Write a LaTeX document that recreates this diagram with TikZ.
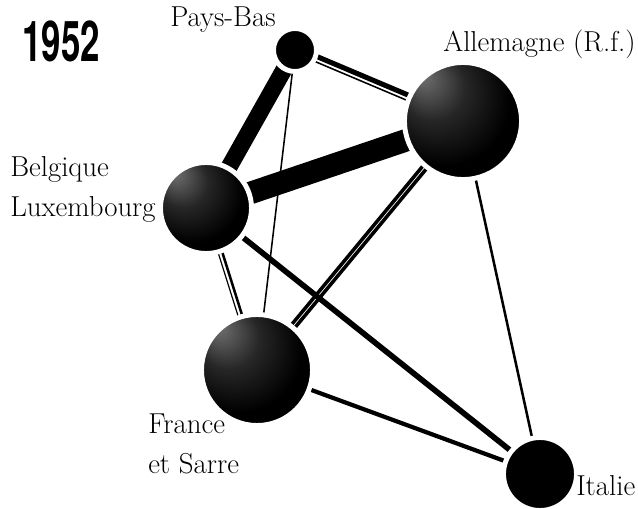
\documentclass[tikz,border=0pt]{standalone}
\usepackage{graphicx,fontspec}
\newfontfamily\yearfont{TeX Gyre Heros}
\usetikzlibrary{calc,backgrounds}
\pgfdeclareradialshading{globe}{\pgfpoint{-18bp}{20bp}}{color(0bp)=(black!55); color(14bp)=(black!85); color(28bp)=(black); color(50bp)=(black)}
\tikzset{
  country/.style={circle,inner sep=0pt,draw=white,line width=3.5pt,fill=black,minimum size=#1},
  globe/.style={country=#1,shade,shading=globe},
  lbl/.style={anchor=base west,inner sep=0pt,font=\fontsize{20.5}{24}\selectfont}
}
\begin{document}
\begin{tikzpicture}[x=0.025cm,y=0.025cm]
\useasboundingbox (0,0) rectangle (638,508);
% countries
\node[country=1.075cm] (pb) at (295,458) {};
\node[globe=2.925cm] (de) at (463,387) {};
\node[globe=2.275cm] (bl) at (206,300) {};
\node[globe=2.775cm] (fr) at (257,138) {};
\node[country=1.825cm] (it) at (540,34) {};
% trade links
\begin{scope}[on background layer]
\draw[line width=12pt] (pb.center) -- (bl.center);
\draw[line width=16pt] (bl.center) -- (de.center);
\draw[line width=1.1pt] (pb.center) -- (fr.center);
\draw[line width=4pt] (bl.center) -- (it.center);
\draw[line width=1.8pt] (de.center) -- (it.center);
\draw[line width=3pt] (fr.center) -- (it.center);
\draw[line width=3.6pt] ($(pb)!1.8pt!90:(de)$) -- ($(de)!1.8pt!-90:(pb)$);
\draw[line width=1.1pt] ($(pb)!2pt!-90:(de)$) -- ($(de)!2pt!90:(pb)$);
\draw[line width=1.8pt] ($(bl)!1.6pt!90:(fr)$) -- ($(fr)!1.6pt!-90:(bl)$);
\draw[line width=0.85pt] ($(bl)!1.3pt!-90:(fr)$) -- ($(fr)!1.3pt!90:(bl)$);
\draw[line width=2.5pt] ($(de)!1.6pt!90:(fr)$) -- ($(fr)!1.6pt!-90:(de)$);
\draw[line width=2.5pt] ($(de)!1.6pt!-90:(fr)$) -- ($(fr)!1.6pt!90:(de)$);
\end{scope}
% texts
\node[anchor=base west,inner sep=0pt,font=\yearfont\bfseries\fontsize{40}{40}\selectfont] (year) at (22,446) {\scalebox{0.62}[1]{1952}};
\node[lbl] (nl) at (170,481) {Pays-Bas};
\node[lbl] (brd) at (443,456) {Allemagne (R.f.)};
\node[lbl] (be) at (10,331) {Belgique};
\node[lbl] (lu) at (10,291) {Luxembourg};
\node[lbl] (fra) at (148,75) {France};
\node[lbl] (sar) at (148,35) {et Sarre};
\node[lbl] (ita) at (576,13) {Italie};
\end{tikzpicture}
\end{document}
